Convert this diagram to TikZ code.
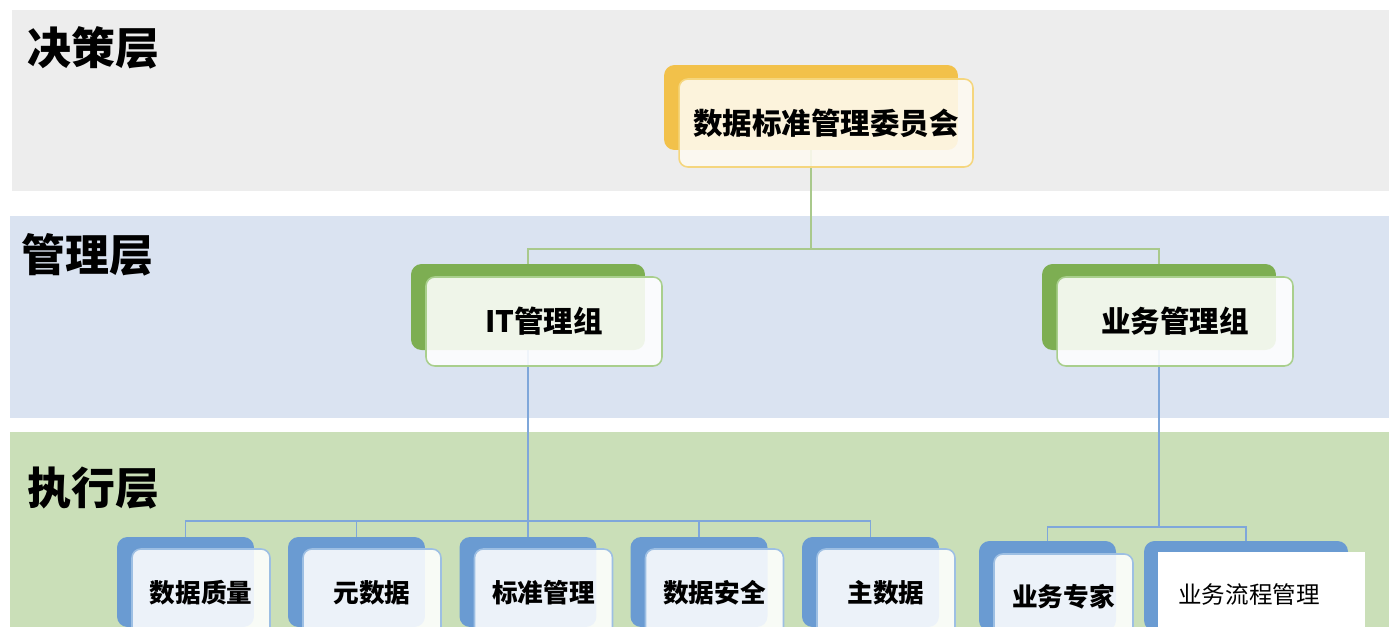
\documentclass[tikz,border=0pt]{standalone}
\usepackage{fontspec}
\setmainfont{Noto Sans CJK SC}
\usetikzlibrary{positioning}
\pgfdeclarelayer{bg}
\pgfsetlayers{bg,main}
\definecolor{bandgray}{HTML}{EDEDED}
\definecolor{bandblue}{HTML}{DAE3F1}
\definecolor{bandgreen}{HTML}{CADFB8}
\definecolor{cardyellow}{HTML}{F2C14A}
\definecolor{edgeyellow}{HTML}{F5D67E}
\definecolor{cardgreen}{HTML}{7DAE52}
\definecolor{edgegreen}{HTML}{A9CF8D}
\definecolor{cardblue}{HTML}{6A9BD2}
\definecolor{edgeblue}{HTML}{9DBFE3}
\definecolor{linkgreen}{HTML}{A9C98C}
\definecolor{linkblue}{HTML}{7FA7DA}

\begin{document}
\begin{tikzpicture}[
  x=0.02cm, y=-0.02cm, line cap=round, line join=round,
  layerlbl/.style={font=\fontsize{25}{30}\selectfont\bfseries, anchor=west, inner sep=0pt},
  backcard/.style={rounded corners=6pt, fill=#1, inner sep=0pt},
  frontcard/.style={rounded corners=5pt, draw=#1, line width=0.9pt, fill=white,
    fill opacity=0.88, text opacity=1, inner sep=0pt},
  bigtxt/.style={font=\fontsize{16.8}{20}\selectfont\bfseries},
  smalltxt/.style={font=\fontsize{14.6}{18}\selectfont\bfseries},
  greenlink/.style={linkgreen, line width=0.9pt},
  bluelink/.style={linkblue, line width=0.9pt},
]
\clip (0,0) rectangle (1398,626);

% Layers
\begin{pgfonlayer}{bg}
  \fill[white] (0,0) rectangle (1398,626);
  \fill[bandgray]  (12,10)  rectangle (1389,191);
  \fill[bandblue]  (10,216) rectangle (1389,418);
  \fill[bandgreen] (10,432) rectangle (1389,640);
\end{pgfonlayer}
\node[layerlbl] (decide) at (27,48)  {决策层};
\node[layerlbl] (manage) at (21,255) {管理层};
\node[layerlbl] (exec)   at (27,488) {执行层};

% Committee
\node[backcard=cardyellow, minimum width=5.88cm, minimum height=1.7cm] (topb) at (811,107.5) {};
\node[frontcard=edgeyellow, minimum width=5.88cm, minimum height=1.76cm, bigtxt,
      fill=cardyellow!8] (top) at ([shift={(15,15.5)}]topb) {数据标准管理委员会};

% Groups
\node[backcard=cardgreen, minimum width=4.68cm, minimum height=1.72cm] (itb) at (528,307) {};
\node[frontcard=edgegreen, minimum width=4.72cm, minimum height=1.78cm, bigtxt] (it)
      at ([shift={(16,14.5)}]itb) {IT管理组};
\node[backcard=cardgreen, minimum width=4.68cm, minimum height=1.72cm] (bizb) at (1159,307) {};
\node[frontcard=edgegreen, minimum width=4.72cm, minimum height=1.78cm, bigtxt] (biz)
      at ([shift={(16,14.5)}]bizb) {业务管理组};

% IT teams
\foreach \name/\cx/\txt in {qual/185.5/数据质量, meta/356.5/元数据, std/528/标准管理,
                            sec/699/数据安全, mast/870.5/主数据} {
  \node[backcard=cardblue, minimum width=2.74cm, minimum height=1.8cm] (\name b) at (\cx,582) {};
  \node[frontcard=edgeblue, minimum width=2.76cm, minimum height=1.76cm, smalltxt] (\name)
        at ([shift={(15.5,11)}]\name b) {\txt};
}

% Business teams
\node[backcard=cardblue, minimum width=2.74cm, minimum height=1.8cm] (expb) at (1047.5,586) {};
\node[frontcard=edgeblue, minimum width=2.78cm, minimum height=1.72cm, smalltxt] (exp)
      at ([shift={(16,11)}]expb) {业务专家};
\node[backcard=cardblue, minimum width=4.08cm, minimum height=1.8cm] (procb) at (1246,586) {};
\node[fill=white, minimum width=4.14cm, minimum height=1.8cm, inner sep=0pt] (proc) at (1261.5,597) {};
\node[font=\fontsize{13.4}{16}\selectfont] (proctxt) at (1249,595) {业务流程管理};

% Links
\begin{pgfonlayer}{bg}
  \coordinate (topj) at (811,249);
  \draw[greenlink] (topb.center) -- (topj);
  \draw[greenlink] (topj) -| (itb.center);
  \draw[greenlink] (topj) -| (bizb.center);
  \coordinate (itj) at (528,521);
  \draw[bluelink] (itb.center) -- (itj);
  \foreach \name in {qual,meta,std,sec,mast}
    \draw[bluelink] (itj) -| (\name b.center);
  \coordinate (bizj) at (1159,527);
  \draw[bluelink] (bizb.center) -- (bizj);
  \draw[bluelink] (bizj) -| (expb.center);
  \draw[bluelink] (bizj) -| (procb.center);
\end{pgfonlayer}
\end{tikzpicture}
\end{document}
